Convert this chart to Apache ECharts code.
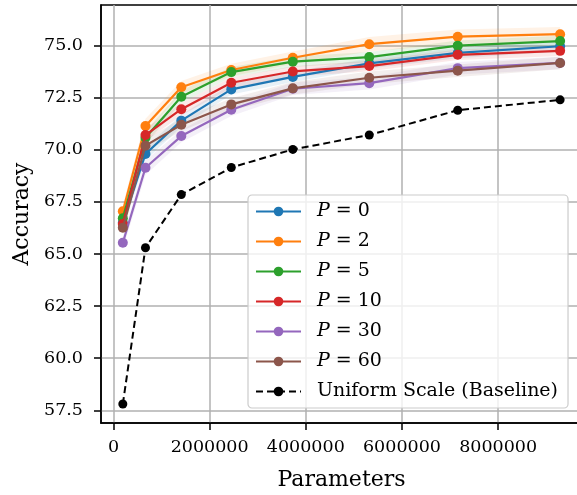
<!DOCTYPE html>
<html>
<head>
<meta charset="utf-8">
<script src="https://cdn.jsdelivr.net/npm/echarts@6/dist/echarts.min.js"></script>
<style>html,body{margin:0;padding:0;background:#fff}#c{width:577px;height:495px}</style>
</head>
<body>
<div id="c"></div>
<script>
const params = [194000, 665000, 1410000, 2450000, 3730000, 5320000, 7160000, 9290000];
const p0  = [66.50, 69.80, 71.40, 72.90, 73.50, 74.15, 74.65, 74.97];
const p2  = [67.05, 71.14, 73.00, 73.83, 74.42, 75.07, 75.43, 75.55];
const p5  = [66.72, 70.58, 72.55, 73.73, 74.23, 74.45, 75.00, 75.22];
const p10 = [66.44, 70.71, 71.95, 73.22, 73.76, 74.02, 74.56, 74.75];
const p30 = [65.54, 69.14, 70.66, 71.92, 72.93, 73.20, 73.92, 74.17];
const p60 = [66.26, 70.20, 71.20, 72.18, 72.95, 73.46, 73.80, 74.17];
const baseline = [57.80, 65.30, 67.85, 69.15, 70.02, 70.71, 71.90, 72.40];
const band0  = [0.30, 0.30, 0.30, 0.25, 0.25, 0.25, 0.25, 0.25];
const band2  = [0.30, 0.35, 0.30, 0.30, 0.30, 0.35, 0.35, 0.35];
const band5  = [0.30, 0.30, 0.30, 0.25, 0.25, 0.25, 0.25, 0.25];
const band10 = [0.30, 0.30, 0.30, 0.25, 0.25, 0.25, 0.25, 0.25];
const band30 = [0.30, 0.35, 0.30, 0.30, 0.30, 0.30, 0.30, 0.30];
const band60 = [0.30, 0.30, 0.30, 0.30, 0.30, 0.30, 0.30, 0.30];
const seriesNames = ['P = 0', 'P = 2', 'P = 5', 'P = 10', 'P = 30', 'P = 60'];
const baselineName = 'Uniform Scale (Baseline)';
const xTicks = [0, 2000000, 4000000, 6000000, 8000000];
const yTicks = [57.5, 60.0, 62.5, 65.0, 67.5, 70.0, 72.5, 75.0];

const colors = ['#1f77b4', '#ff7f0e', '#2ca02c', '#d62728', '#9467bd', '#8c564b'];
const values = [p0, p2, p5, p10, p30, p60];
const bands = [band0, band2, band5, band10, band30, band60];
const FONT = 'DejaVu Serif';

const series = [];
values.forEach((vals, i) => {
  series.push({
    name: 'band-' + i, type: 'custom', silent: true, z: 1,
    data: [[params[0], vals[0]]],
    renderItem: function (p, api) {
      const upper = vals.map((v, j) => api.coord([params[j], v + bands[i][j]]));
      const lower = vals.map((v, j) => api.coord([params[j], v - bands[i][j]])).reverse();
      return {
        type: 'polygon',
        shape: { points: upper.concat(lower) },
        style: { fill: colors[i], opacity: 0.1 }
      };
    }
  });
});
values.forEach((vals, i) => {
  series.push({
    name: seriesNames[i], type: 'line', z: 3 + i,
    data: vals.map((v, j) => [params[j], v]),
    symbol: 'circle', symbolSize: 10,
    lineStyle: { color: colors[i], width: 2.2 },
    itemStyle: { color: colors[i] }
  });
});
series.push({
  name: baselineName, type: 'line', z: 10,
  data: baseline.map((v, j) => [params[j], v]),
  symbol: 'circle', symbolSize: 9,
  lineStyle: { color: '#000', width: 2, type: [7, 4] },
  itemStyle: { color: '#000' }
});

const chart = echarts.init(document.getElementById('c'), null, { renderer: 'canvas' });
chart.setOption({
  animation: false,
  backgroundColor: '#fff',
  grid: {
    left: 101, top: 5, right: -5, bottom: 72,
    containLabel: false, outerBoundsMode: 'none',
    show: true, borderColor: '#000', borderWidth: 1.5, backgroundColor: 'transparent'
  },
  xAxis: {
    type: 'value', min: -260000, max: 9745000,
    name: 'Parameters', nameLocation: 'middle', nameGap: 46,
    nameTextStyle: { fontFamily: FONT, fontSize: 22, color: '#000' },
    axisLine: { show: true, onZero: false, lineStyle: { color: '#000', width: 1.5 } },
    axisTick: { show: true, length: 7, lineStyle: { color: '#000', width: 1.5 }, customValues: xTicks },
    axisLabel: { customValues: xTicks, margin: 15, fontFamily: FONT, fontSize: 17.5, color: '#000',
      formatter: v => String(v) },
    splitLine: { show: true, lineStyle: { color: '#b0b0b0', width: 1.5 } }
  },
  yAxis: {
    type: 'value', min: 56.89, max: 76.95,
    name: 'Accuracy', nameLocation: 'middle', nameGap: 68,
    nameTextStyle: { fontFamily: FONT, fontSize: 22, color: '#000' },
    axisLine: { show: true, onZero: false, lineStyle: { color: '#000', width: 1.5 } },
    axisTick: { show: true, length: 7, lineStyle: { color: '#000', width: 1.5 }, customValues: yTicks },
    axisLabel: { customValues: yTicks, margin: 18, fontFamily: FONT, fontSize: 17.5, color: '#000',
      formatter: v => v.toFixed(1) },
    splitLine: { show: true, lineStyle: { color: '#b0b0b0', width: 1.5 } }
  },
  legend: {
    data: seriesNames.concat([baselineName]),
    orient: 'vertical', left: 248, top: 195,
    padding: [7, 10, 7, 7],
    itemWidth: 45, itemHeight: 12, itemGap: 11,
    backgroundColor: 'rgba(255,255,255,0.8)', borderColor: '#cccccc', borderWidth: 1.2, borderRadius: 4,
    textStyle: { fontFamily: FONT, fontSize: 19, color: '#000', padding: [0, 0, 0, 11],
      rich: { i: { fontFamily: FONT, fontSize: 19, fontStyle: 'italic', color: '#000' },
              n: { fontFamily: FONT, fontSize: 19, color: '#000' } } },
    formatter: name => name.startsWith('P = ') ? '{i|P} {n|= ' + name.slice(4) + '}' : name
  },
  series: series
});
</script>
</body>
</html>
